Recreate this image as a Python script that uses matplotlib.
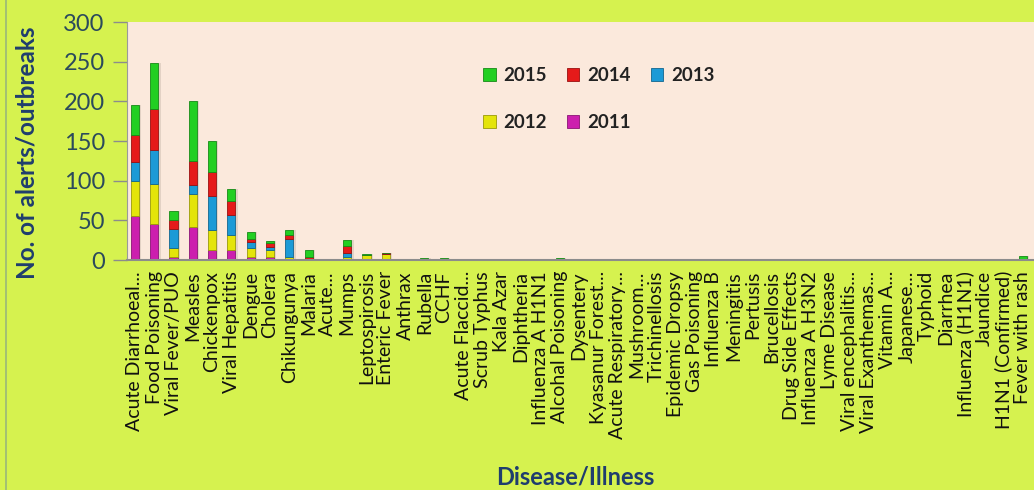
import matplotlib
matplotlib.use("Agg")
import matplotlib.pyplot as plt
import numpy as np
from matplotlib.patches import Patch
from matplotlib.lines import Line2D

diseases = ["Acute Diarrhoeal...", "Food Poisoning", "Viral Fever/PUO", "Measles",
            "Chickenpox", "Viral Hepatitis", "Dengue", "Cholera", "Chikungunya",
            "Malaria", "Acute...", "Mumps", "Leptospirosis", "Enteric Fever",
            "Anthrax", "Rubella", "CCHF", "Acute Flaccid...", "Scrub Typhus",
            "Kala Azar", "Diphtheria", "Influenza A H1N1", "Alcohal Poisoning",
            "Dysentery", "Kyasanur Forest...", "Acute Respiratory...", "Mushroom...",
            "Trichinellosis", "Epidemic Dropsy", "Gas Poisoning", "Influenza B",
            "Meningitis", "Pertusis", "Brucellosis", "Drug Side Effects",
            "Influenza A H3N2", "Lyme Disease", "Viral encephalitis...",
            "Viral Exanthemas...", "Vitamin A...", "Japanese...", "Typhoid",
            "Diarrhea", "Influenza (H1N1)", "Jaundice", "H1N1 (Confirmed)",
            "Fever with rash"]

n = len(diseases)

def series(vals):
    arr = [0] * n
    for i, v in vals.items():
        arr[i] = v
    return arr

y2011 = series({0: 56, 1: 45, 2: 4, 3: 42, 4: 12, 5: 12, 6: 4, 7: 4, 9: 1, 11: 1})
y2012 = series({0: 43, 1: 51, 2: 11, 3: 41, 4: 26, 5: 20, 6: 11, 7: 8, 8: 4,
                11: 3, 12: 6, 13: 7})
y2013 = series({0: 25, 1: 43, 2: 24, 3: 12, 4: 43, 5: 25, 6: 8, 7: 5, 8: 22, 11: 5})
y2014 = series({0: 34, 1: 51, 2: 11, 3: 30, 4: 30, 5: 17, 6: 3, 7: 4, 8: 6,
                9: 3, 11: 9, 13: 2})
y2015 = series({0: 38, 1: 58, 2: 12, 3: 76, 4: 39, 5: 15, 6: 9, 7: 3, 8: 6,
                9: 8, 11: 7, 12: 2, 15: 3, 16: 3, 22: 3, 46: 5})

years = ["2011", "2012", "2013", "2014", "2015"]
data = [y2011, y2012, y2013, y2014, y2015]
colors = {"2011": "#cc1fae", "2012": "#e4e40a", "2013": "#1c9ad6",
          "2014": "#e51a1a", "2015": "#22cf22"}
edges = {"2011": "#8a1475", "2012": "#9a9a08", "2013": "#12668f",
         "2014": "#9a1010", "2015": "#178a17"}

BG = "#d6f24f"
PLOT_BG = "#fbe9dc"

fig = plt.figure(figsize=(10.34, 4.9), dpi=100, facecolor=BG)
ax = fig.add_axes([127 / 1034, 1 - 260 / 490, (1034 - 127) / 1034, (260 - 22) / 490])
ax.set_facecolor(PLOT_BG)

x = np.arange(n)
bottom = np.zeros(n)
width = 0.42
for yr, vals in zip(years, data):
    v = np.array(vals, dtype=float)
    # faint shadow
    ax.bar(x + 0.12, v, width, bottom=bottom, color="#b8a89c", alpha=0.35,
           linewidth=0, zorder=1)
    ax.bar(x, v, width, bottom=bottom, color=colors[yr], edgecolor=edges[yr],
           linewidth=0.6, zorder=2)
    bottom += v

ax.set_xlim(-0.41, 46.58)
ax.set_ylim(0, 300)
ax.set_yticks(range(0, 301, 50))
ax.set_xticks(x)
ax.set_xticklabels(diseases, rotation=90, fontsize=14, family="Lato",
                   color="#111111", va="top", ha="center")
ax.tick_params(axis="x", length=0, pad=8)
ax.tick_params(axis="y", length=10, width=1, color="#8c8c8c", labelsize=17,
               labelcolor="#2b4a5c", pad=6)
for lbl in ax.get_yticklabels():
    lbl.set_family("Lato")

for s in ["top", "right"]:
    ax.spines[s].set_visible(False)
ax.spines["left"].set_color("#9a9a9a")
ax.spines["bottom"].set_color("#8c8c8c")
ax.spines["bottom"].set_linewidth(1.5)

ax.set_ylabel("No. of alerts/outbreaks", fontsize=17.5, fontweight="bold",
              color="#1f3d6e", family="Lato")
ax.yaxis.set_label_coords(-88 / 907, 0.45)
fig.text(575 / 1034, 1 - 477 / 490, "Disease/Illness", fontsize=17,
         fontweight="bold", color="#1f3d6e", family="Lato", ha="center", va="center")

order = ["2015", "2012", "2014", "2011", "2013"]
handles = [Patch(facecolor=colors[y], edgecolor=edges[y], linewidth=0.6) for y in order]
leg = ax.legend(handles, order, ncol=3, frameon=False, loc="upper left",
                bbox_to_anchor=(0.393, 0.81), borderaxespad=0, borderpad=0,
                handlelength=0.65, handleheight=0.65, handletextpad=0.4,
                columnspacing=1.1, labelspacing=1.6,
                prop={"family": "Lato", "size": 13.5, "weight": "bold"})
for t in leg.get_texts():
    t.set_color("#222222")

fig.add_artist(Line2D([6 / 1034, 6 / 1034], [0, 1], color="#9ab87a", lw=1.2))

fig.savefig("out.png", dpi=100, facecolor=BG)
